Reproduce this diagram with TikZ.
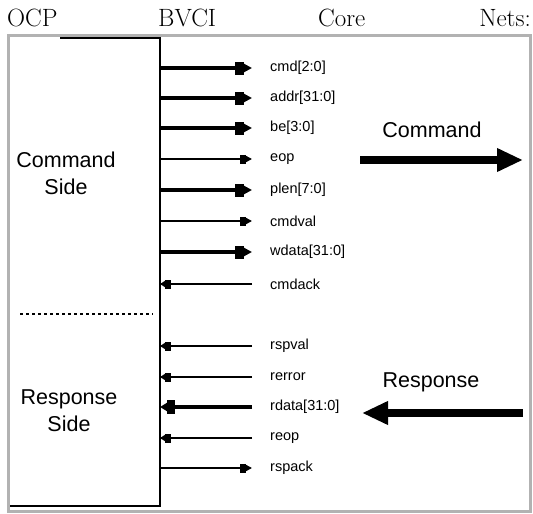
\documentclass[tikz,border=0pt]{standalone}
\usepackage{fontspec}
\usetikzlibrary{arrows.meta}
\newfontfamily\sigfont{Liberation Sans}
\begin{document}
\begin{tikzpicture}[x=1pt,y=-1pt,
  toplabel/.style={inner sep=0pt,font=\fontsize{25}{29}\selectfont},
  sig/.style={inner sep=0pt,anchor=west,font=\sigfont\fontsize{14.5}{16}\selectfont},
  sidetext/.style={inner sep=0pt,align=center,font=\sigfont\fontsize{21.5}{27}\selectfont},
  bigtext/.style={inner sep=0pt,font=\sigfont\fontsize{21.5}{24}\selectfont},
  busout/.style={line width=4pt,-{Rectangle[length=9pt,width=13pt,sep=0pt]Triangle[length=8pt,width=8pt,sep=0pt]}},
  busin/.style={line width=4pt,-{Rectangle[length=8pt,width=14pt,sep=0pt]Triangle[length=7pt,width=8pt,sep=0pt]}},
  wireout/.style={line width=1.6pt,-{Rectangle[length=6pt,width=9pt,sep=0pt]Triangle[length=6pt,width=6pt,sep=0pt]}},
  wirein/.style={line width=1.6pt,-{Rectangle[length=6pt,width=9pt,sep=0pt]Triangle[length=5pt,width=6pt,sep=0pt]}},
  bigarrow/.style={line width=8pt,-{Triangle[length=26pt,width=22pt]}}
]
\useasboundingbox (0,0) rectangle (533,514);
% top labels
\node[toplabel,anchor=base west] (ocp) at (7,27) {OCP};
\node[toplabel,anchor=base west] (bvci) at (158,27) {BVCI};
\node[toplabel,anchor=base west] (core) at (318,27) {Core};
\node[toplabel,anchor=base east] (nets) at (531,27) {Nets:};
% frame
\draw[gray!60,line width=3pt] (8.5,35) rectangle (530.5,511);
% OCP block
\coordinate (tl) at (60,38);
\coordinate (tr) at (160,38);
\coordinate (br) at (160,506);
\coordinate (bl) at (10,506);
\draw[line width=2pt] (tl) -- (tr) -- (br) -- (bl);
% side texts
\node[sidetext] (cmdside) at (66,173) {Command\\Side};
\node[sidetext] (rspside) at (69,411) {Response\\Side};
\coordinate (d1) at (20,314);
\coordinate (d2) at (153,314);
\draw[line width=1.8pt,dash pattern=on 3pt off 3pt] (d1) -- (d2);
% signals
\foreach \name/\y/\txt in {cmd/68/{cmd[2:0]},addr/98/{addr[31:0]},be/128/{be[3:0]},eop/159/{eop},plen/190/{plen[7:0]},cmdval/221/{cmdval},wdata/252/{wdata[31:0]},cmdack/284/{cmdack},rspval/346/{rspval},rerror/377/{rerror},rdata/407/{rdata[31:0]},reop/438/{reop},rspack/468/{rspack}}{
  \coordinate (\name-b) at (160,\y);
  \coordinate (\name-e) at (252,\y);
  \node[sig] (\name-l) at (270,\y) {\txt};
}
\draw[busout] (cmd-b) -- (cmd-e);
\draw[busout] (addr-b) -- (addr-e);
\draw[busout] (be-b) -- (be-e);
\draw[wireout] (eop-b) -- (eop-e);
\draw[busout] (plen-b) -- (plen-e);
\draw[wireout] (cmdval-b) -- (cmdval-e);
\draw[busout] (wdata-b) -- (wdata-e);
\draw[wirein] (cmdack-e) -- (cmdack-b);
\draw[wirein] (rspval-e) -- (rspval-b);
\draw[wirein] (rerror-e) -- (rerror-b);
\draw[busin] (rdata-e) -- (rdata-b);
\draw[wirein] (reop-e) -- (reop-b);
\draw[wireout] (rspack-b) -- (rspack-e);
% big arrows
\node[bigtext] (cmdlbl) at (432,130) {Command};
\node[bigtext] (rsplbl) at (431,382) {Response};
\coordinate (ca) at (360,160);
\coordinate (cb) at (523,160);
\draw[bigarrow] (ca) -- (cb);
\coordinate (ra) at (523,413);
\coordinate (rb) at (362,413);
\draw[bigarrow] (ra) -- (rb);
\end{tikzpicture}
\end{document}
